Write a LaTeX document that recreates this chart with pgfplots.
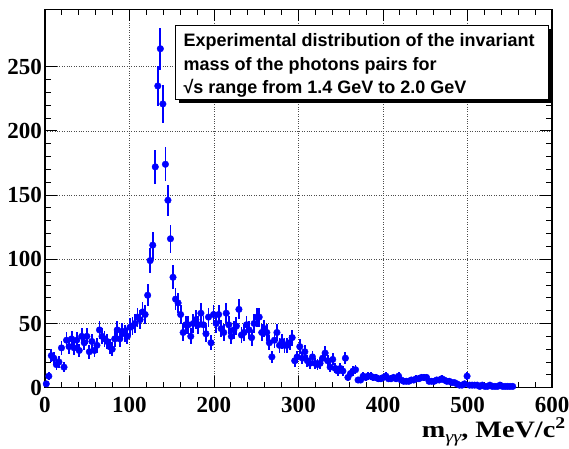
\documentclass[border=0pt]{standalone}
\usepackage{pgfplots}
\pgfplotsset{compat=1.18}
\usepackage{fontspec}
\setmainfont{Liberation Serif}
\newfontfamily\helv{Liberation Sans}
\definecolor{rootblue}{RGB}{0,0,255}
\begin{document}
\begin{tikzpicture}
\begin{axis}[
  scale only axis,
  width=507pt, height=378.4pt,
  at={(0pt,0pt)}, anchor=south west,
  xmin=0, xmax=600, ymin=0, ymax=294.7,
  xtick={0,100,...,600}, ytick={0,50,...,250},
  minor x tick num=4, minor y tick num=4,
  tick align=inside, tick pos=both, ticklabel pos=left,
  major tick length=12pt, minor tick length=6pt,
  every tick/.style={black, line width=0.9pt},
  axis line style={line width=1.5pt},
  grid=major,
  major grid style={dotted, black!70, line width=0.7pt},
  /pgf/number format/assume math mode=true,
  ticklabel style={font=\bfseries\fontsize{23}{23}\selectfont, inner sep=0pt},
  yticklabel style={xshift=-3pt},
  xticklabel style={yshift=-9pt},
  xlabel={\scalebox{1.2}[1]{\bfseries m\raisebox{-0.4ex}{\mdseries\itshape\fontsize{17}{17}\selectfont γγ}, MeV/c\textsuperscript{2}}},
  xlabel style={at={(rel axis cs:1,0)}, anchor=base east, inner sep=0pt, xshift=14pt, yshift=-50pt, font=\fontsize{23.5}{23.5}\selectfont},
  clip=false,
]
\addplot[rootblue, only marks, mark=*, mark size=3.3pt,
  mark options={solid, fill=rootblue, draw=rootblue},
  error bars/.cd, y dir=both, y explicit,
  error bar style={line width=1.8pt, rootblue}, error mark=none]
  table[x=x, y=y, y error=e] {
x y e
1.5 3 1.7
4.5 9 3.0
7.5 25 5.0
10.5 23 4.8
13.5 18 4.2
16.5 20 4.5
19.5 31 5.6
22.5 16 4.0
25.5 37 6.1
28.5 32 5.7
31.5 38 6.2
34.5 31 5.6
37.5 37 6.1
40.5 29 5.4
43.5 40 6.3
46.5 35 5.9
49.5 40 6.3
52.5 28 5.3
55.5 36 6.0
58.5 29 5.4
61.5 33 5.7
64.5 45 6.7
67.5 40 6.3
70.5 38 6.2
73.5 36 6.0
76.5 32 5.7
79.5 30 5.5
82.5 38 6.2
85.5 45 6.7
88.5 38 6.2
91.5 44 6.6
94.5 42 6.5
97.5 40 6.3
100.5 47 6.9
103.5 48 6.9
106.5 50 7.1
109.5 55 7.4
112.5 53 7.3
115.5 59 7.7
118.5 57 7.5
121.5 72 8.5
124.5 99 9.9
127.5 111 10.5
130.5 172 13.1
133.5 235 15.3
136.5 264 16.2
139.5 221 14.9
142.5 174 13.2
145.5 146 12.1
148.5 116 10.8
151.5 86 9.3
154.5 69 8.3
157.5 66 8.1
160.5 57 7.5
163.5 43 6.6
166.5 49 7.0
169.5 49 7.0
172.5 40 6.3
175.5 50 7.1
178.5 53 7.3
181.5 49 7.0
184.5 58 7.6
187.5 49 7.0
190.5 42 6.5
193.5 55 7.4
196.5 35 5.9
199.5 57 7.5
202.5 50 7.1
205.5 57 7.5
208.5 46 6.8
211.5 43 6.6
214.5 58 7.6
217.5 49 7.0
220.5 40 6.3
223.5 45 6.7
226.5 48 6.9
229.5 61 7.8
232.5 41 6.4
235.5 43 6.6
238.5 49 7.0
241.5 45 6.7
244.5 39 6.2
247.5 50 7.1
250.5 55 7.4
253.5 55 7.4
256.5 43 6.6
259.5 46 6.8
262.5 43 6.6
265.5 35 5.9
268.5 24 4.9
271.5 37 6.1
274.5 43 6.6
277.5 33 5.7
280.5 36 6.0
283.5 33 5.7
286.5 33 5.7
289.5 35 5.9
292.5 39 6.2
295.5 21 4.6
298.5 24 4.9
301.5 32 5.7
304.5 23 4.8
307.5 28 5.3
310.5 21 4.6
313.5 19 4.4
316.5 24 4.9
319.5 19 4.4
322.5 18 4.2
325.5 19 4.4
328.5 23 4.8
331.5 27 5.2
334.5 21 4.6
337.5 16 4.0
340.5 22 4.7
343.5 15 3.9
346.5 13 3.6
349.5 15 3.9
352.5 13 3.6
355.5 23 4.8
358.5 8 2.8
361.5 11 3.3
364.5 13 3.6
367.5 14 3.7
370.5 6 2.4
373.5 6 2.4
376.5 9 3.0
379.5 8 2.8
382.5 9 3.0
385.5 9 3.0
388.5 8 2.8
391.5 8 2.8
394.5 7 2.6
397.5 7 2.6
400.5 8 2.8
403.5 9 3.0
406.5 7 2.6
409.5 7 2.6
412.5 8 2.8
415.5 7 2.6
418.5 9 3.0
421.5 6 2.4
424.5 5 2.2
427.5 5 2.2
430.5 5 2.2
433.5 6 2.4
436.5 6 2.4
439.5 7 2.6
442.5 7 2.6
445.5 8 2.8
448.5 8 2.8
451.5 8 2.8
454.5 5 2.2
457.5 5 2.2
460.5 5 2.2
463.5 6 2.4
466.5 6 2.4
469.5 7 2.6
472.5 6 2.4
475.5 5 2.2
478.5 5 2.2
481.5 4 2.0
484.5 4 2.0
487.5 3 1.7
490.5 2 1.4
493.5 2 1.4
496.5 3 1.7
499.5 9 3.0
502.5 2 1.4
505.5 2 1.4
508.5 2 1.4
511.5 2 1.4
514.5 1 1.0
517.5 2 1.4
520.5 1 1.0
523.5 1 1.0
526.5 2 1.4
529.5 1 1.0
532.5 1 1.0
535.5 1 1.0
538.5 2 1.4
541.5 1 1.0
544.5 1 1.0
547.5 1 1.0
550.5 1 1.0
553.5 1 1.0
};
\end{axis}
% text box with shadow
\fill[black] (133.5pt,285pt) rectangle (506.5pt,358.5pt);
\filldraw[fill=white, draw=black, line width=0.8pt] (130pt,288.7pt) rectangle (503pt,362pt);
\node[anchor=base west, inner sep=0pt, font=\helv\bfseries\fontsize{18}{18}\selectfont] at (138.3pt,341pt) {Experimental distribution of the invariant};
\node[anchor=base west, inner sep=0pt, font=\helv\bfseries\fontsize{18}{18}\selectfont] at (138.3pt,317.7pt) {mass of the photons pairs for};
\node[anchor=base west, inner sep=0pt, font=\helv\bfseries\fontsize{18}{18}\selectfont] at (138.3pt,294.5pt) {√s range from 1.4 GeV to 2.0 GeV};
\pgfresetboundingbox
\path (-45pt,-60.3pt) rectangle (524pt,387.7pt);
\end{tikzpicture}
\end{document}
